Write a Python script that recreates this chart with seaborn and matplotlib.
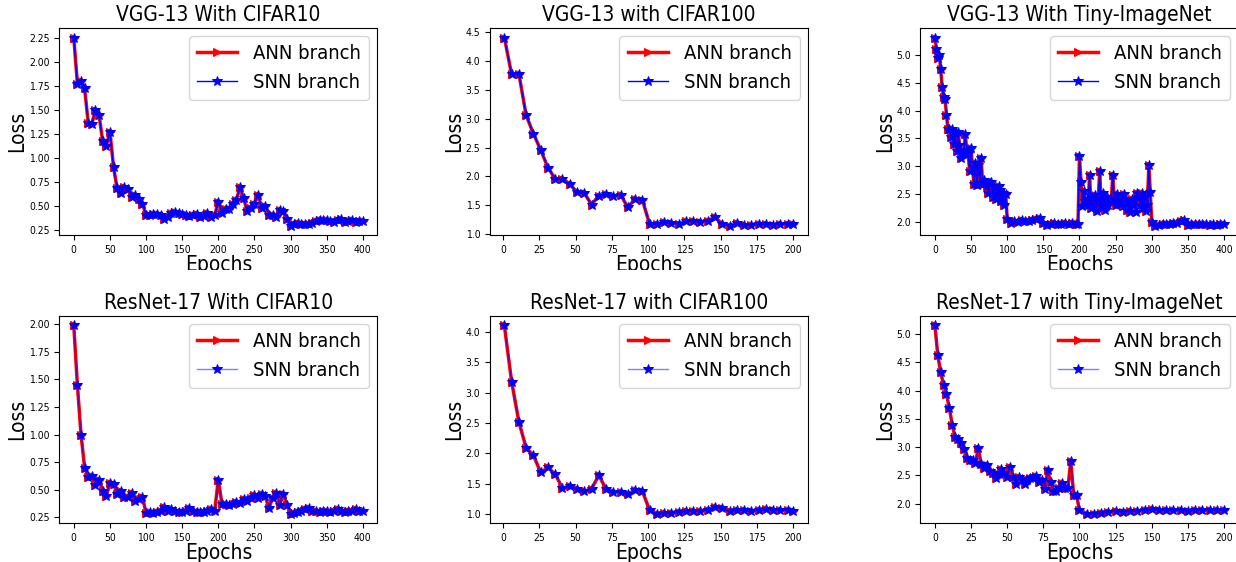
import numpy as np
import matplotlib
matplotlib.use("Agg")
import matplotlib.pyplot as plt
import seaborn as sns
from matplotlib.transforms import Bbox, TransformedBbox

# the reference text looks horizontally squeezed, so use the condensed face
plt.rcParams["font.family"] = ["DejaVu Sans"]
plt.rcParams["font.stretch"] = "condensed"

# ---- data (loss per epoch) ----
# VGG-13 / CIFAR10 (every 5 epochs)
vgg_c10_x = list(range(0, 401, 5))
vgg_c10_y = [2.25, 1.77, 1.80, 1.72, 1.36, 1.35, 1.50, 1.44, 1.17, 1.12,
             1.27, 0.90, 0.68, 0.63, 0.69, 0.67, 0.59, 0.61, 0.57, 0.52,
             0.40, 0.40, 0.41, 0.41, 0.40, 0.36, 0.38, 0.42, 0.43, 0.42,
             0.41, 0.40, 0.39, 0.40, 0.41, 0.38, 0.39, 0.42, 0.38, 0.40,
             0.54, 0.42, 0.47, 0.47, 0.52, 0.56, 0.69, 0.58, 0.44, 0.48,
             0.52, 0.61, 0.48, 0.50, 0.40, 0.40, 0.38, 0.45, 0.44, 0.36,
             0.29, 0.31, 0.32, 0.31, 0.31, 0.31, 0.32, 0.34, 0.35, 0.35,
             0.35, 0.34, 0.33, 0.35, 0.36, 0.33, 0.34, 0.35, 0.33, 0.34,
             0.34]

# VGG-13 / CIFAR100
vgg_c100_x = list(range(1, 197, 5)) + [200]
vgg_c100_y = [4.41, 3.77, 3.78, 3.06, 2.74, 2.46, 2.15, 1.96, 1.95, 1.87,
              1.72, 1.71, 1.51, 1.66, 1.69, 1.66, 1.68, 1.46, 1.61, 1.59,
              1.17, 1.17, 1.20, 1.19, 1.17, 1.22, 1.22, 1.21, 1.23, 1.29,
              1.17, 1.14, 1.19, 1.16, 1.16, 1.18, 1.18, 1.15, 1.18, 1.17,
              1.17]

# VGG-13 / Tiny-ImageNet
vgg_tiny_x = (list(range(0, 101, 2)) + list(range(105, 196, 5))
              + list(range(198, 301, 2)) + list(range(305, 401, 5)))
vgg_tiny_y = [5.31, 5.10, 4.95, 5.00, 4.74, 4.42, 4.24, 4.20, 3.92, 3.66,
              3.67, 3.52, 3.67, 3.40, 3.60, 3.28, 3.62, 3.38, 3.15, 3.22,
              3.25, 3.58, 3.30, 3.22, 2.92, 3.32, 2.98, 2.68, 3.05, 2.66,
              3.02, 2.70, 3.15, 2.68, 2.75, 2.70, 2.65, 2.52, 2.70, 2.72,
              2.45, 2.62, 2.42, 2.50, 2.65, 2.58, 2.38, 2.52, 2.30, 2.50,
              2.05,
              1.99, 2.01, 2.00, 2.03, 2.02, 2.01, 2.03, 2.05, 2.07, 1.98,
              1.95, 1.97, 1.98, 1.96, 1.97, 1.98, 1.96, 1.98, 1.97,
              1.97, 3.18, 2.72, 2.28, 2.55, 2.38, 2.40, 2.30, 2.85, 2.25,
              2.45, 2.30, 2.48, 2.20, 2.42, 2.92, 2.30, 2.52, 2.38, 2.22,
              2.45, 2.30, 2.42, 2.35, 2.85, 2.40, 2.30, 2.50, 2.38, 2.32,
              2.42, 2.28, 2.50, 2.40, 2.22, 2.35, 2.18, 2.42, 2.30, 2.38,
              2.18, 2.52, 2.45, 2.30, 2.52, 2.25, 2.45, 2.20, 2.30, 3.03,
              2.53, 2.00,
              1.93, 1.95, 1.96, 1.96, 1.97, 1.98, 1.99, 2.02, 2.03, 1.95,
              1.96, 1.97, 1.97, 1.96, 1.96, 1.95, 1.96, 1.95, 1.96, 1.97]

# ResNet-17 / CIFAR10
res_c10_x = list(range(0, 401, 5))
res_c10_y = [1.99, 1.45, 1.00, 0.70, 0.61, 0.62, 0.54, 0.59, 0.49, 0.44,
             0.56, 0.55, 0.46, 0.49, 0.43, 0.43, 0.47, 0.40, 0.41, 0.43,
             0.29, 0.30, 0.29, 0.30, 0.31, 0.34, 0.31, 0.32, 0.31, 0.30,
             0.30, 0.31, 0.33, 0.31, 0.30, 0.30, 0.30, 0.31, 0.32, 0.31,
             0.59, 0.37, 0.37, 0.36, 0.37, 0.39, 0.38, 0.41, 0.40, 0.42,
             0.45, 0.42, 0.46, 0.44, 0.33, 0.42, 0.47, 0.36, 0.46, 0.36,
             0.28, 0.29, 0.30, 0.31, 0.32, 0.33, 0.31, 0.31, 0.30, 0.31,
             0.31, 0.30, 0.31, 0.32, 0.31, 0.30, 0.31, 0.31, 0.32, 0.31,
             0.31]

# ResNet-17 / CIFAR100
res_c100_x = list(range(1, 197, 5)) + [200]
res_c100_y = [4.10, 3.18, 2.52, 2.09, 1.97, 1.69, 1.77, 1.66, 1.43, 1.46,
              1.41, 1.38, 1.42, 1.64, 1.42, 1.37, 1.37, 1.33, 1.40, 1.38,
              1.07, 1.01, 1.02, 1.03, 1.04, 1.06, 1.06, 1.06, 1.08, 1.12,
              1.10, 1.05, 1.08, 1.07, 1.06, 1.07, 1.09, 1.08, 1.07, 1.07,
              1.06]

# ResNet-17 / Tiny-ImageNet
res_tiny_x = list(range(0, 101, 2)) + list(range(105, 201, 5))
res_tiny_y = [5.15, 4.62, 4.32, 4.10, 3.93, 3.69, 3.39, 3.17, 3.15, 3.07,
              2.97, 2.81, 2.78, 2.77, 2.72, 2.98, 2.70, 2.63, 2.68, 2.58,
              2.55, 2.46, 2.53, 2.62, 2.55, 2.47, 2.64, 2.47, 2.34, 2.47,
              2.44, 2.34, 2.41, 2.45, 2.45, 2.48, 2.38, 2.42, 2.25, 2.60,
              2.38, 2.22, 2.23, 2.28, 2.36, 2.28, 2.27, 2.76, 2.15, 2.15,
              1.88,
              1.82, 1.82, 1.84, 1.85, 1.87, 1.86, 1.87, 1.87, 1.89, 1.91,
              1.88, 1.88, 1.88, 1.88, 1.87, 1.89, 1.88, 1.88, 1.89, 1.88]

titles = ["VGG-13 With CIFAR10", "VGG-13 with CIFAR100", "VGG-13 With Tiny-ImageNet",
          "ResNet-17 With CIFAR10", "ResNet-17 with CIFAR100", "ResNet-17 with Tiny-ImageNet"]
xs = [vgg_c10_x, vgg_c100_x, vgg_tiny_x, res_c10_x, res_c100_x, res_tiny_x]
ys = [vgg_c10_y, vgg_c100_y, vgg_tiny_y, res_c10_y, res_c100_y, res_tiny_y]
xticks_400 = [0, 50, 100, 150, 200, 250, 300, 350, 400]
xticks_200 = [0, 25, 50, 75, 100, 125, 150, 175, 200]
xticks = [xticks_400, xticks_200, xticks_400, xticks_400, xticks_200, xticks_200]
yticks = [[0.25, 0.50, 0.75, 1.00, 1.25, 1.50, 1.75, 2.00, 2.25],
          [1.0, 1.5, 2.0, 2.5, 3.0, 3.5, 4.0, 4.5],
          [2.0, 2.5, 3.0, 3.5, 4.0, 4.5, 5.0],
          [0.25, 0.50, 0.75, 1.00, 1.25, 1.50, 1.75, 2.00],
          [1.0, 1.5, 2.0, 2.5, 3.0, 3.5, 4.0],
          [2.0, 2.5, 3.0, 3.5, 4.0, 4.5, 5.0]]
ytick_fmt = ["%.2f", "%.1f", "%.1f", "%.2f", "%.1f", "%.1f"]

fig, axes = plt.subplots(2, 3, figsize=(12.36, 5.62), dpi=100)
fig.subplots_adjust(left=0.048, right=1.002, top=0.950, bottom=0.069,
                    wspace=0.354, hspace=0.39)

for i, ax in enumerate(axes.flat):
    snn_color = (0, 0, 1, 1.0) if i < 3 else (0, 0, 1, 0.5)
    sns.lineplot(x=xs[i], y=ys[i], ax=ax, color="red", linewidth=2.5,
                 marker=">", markersize=5.5, markeredgecolor="red",
                 markerfacecolor="red", label="ANN branch")
    sns.lineplot(x=xs[i], y=ys[i], ax=ax, color=snn_color, linewidth=1,
                 marker="*", markersize=7, markeredgecolor="blue",
                 markerfacecolor="blue", label="SNN branch")
    ax.set_title(titles[i], fontsize=15, pad=5)
    ax.set_xlabel("Epochs", fontsize=15, labelpad=0)
    ax.set_ylabel("Loss", fontsize=15, labelpad=1)
    ax.set_xticks(xticks[i])
    ax.set_yticks(yticks[i])
    ax.set_yticklabels([ytick_fmt[i] % t for t in yticks[i]])
    ax.tick_params(labelsize=7.5)
    ax.legend(loc="upper right", fontsize=14.5, borderaxespad=0.4)
    if i < 3:
        # the reference cuts off the bottom of the first-row x labels
        clip = TransformedBbox(Bbox([[0, 1 - 270 / 562], [1, 1]]), fig.transFigure)
        ax.xaxis.label.set_clip_box(clip)

fig.savefig("out.png", dpi=100)
